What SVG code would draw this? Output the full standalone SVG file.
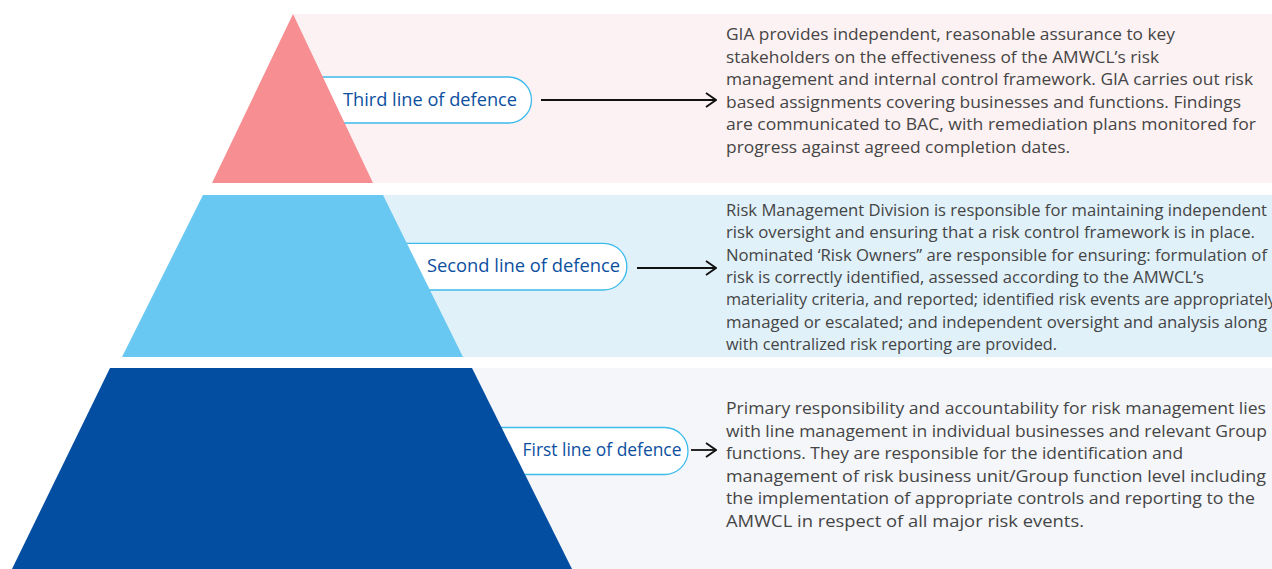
<svg xmlns="http://www.w3.org/2000/svg" width="1272" height="569" viewBox="0 0 1272 569">
  <defs>
    <marker id="chev" viewBox="0 0 12 16" markerWidth="12" markerHeight="16" refX="11" refY="8" orient="auto" markerUnits="userSpaceOnUse">
      <path d="M1,1 L11,8 L1,15" fill="none" stroke="#111" stroke-width="1.8"/>
    </marker>
    <style>
      .pill { fill: #ffffff; stroke: #3dbbea; stroke-width: 1.3; }
      .lbl { font-family: "Open Sans", Lato, sans-serif; font-size: 17.5px; fill: #0c4f9f; }
      .body { font-family: "Open Sans", Lato, sans-serif; font-size: 15.8px; fill: #454545; }
      .conn { stroke: #111; stroke-width: 1.8; fill: none; marker-end: url(#chev); }
    </style>
  </defs>

  <rect width="1272" height="569" fill="#ffffff"/>

  <!-- tier 3 -->
  <g id="tier3">
    <rect x="293" y="14" width="979" height="169" fill="#fdf2f3"/>
    <path class="pill" d="M320,77 H508.5 A23,23 0 0 1 508.5,123 H320 Z"/>
    <polygon points="293,14 373,183 212,183" fill="#f68e92"/>
    <text class="lbl" x="343" y="106" textLength="174" lengthAdjust="spacingAndGlyphs">Third line of defence</text>
    <g class="body">
      <text x="726" y="40" textLength="449" lengthAdjust="spacingAndGlyphs">GIA provides independent, reasonable assurance to key</text>
      <text x="726" y="62.5" textLength="433" lengthAdjust="spacingAndGlyphs">stakeholders on the effectiveness of the AMWCL’s risk</text>
      <text x="726" y="85" textLength="527" lengthAdjust="spacingAndGlyphs">management and internal control framework. GIA carries out risk</text>
      <text x="726" y="107.5" textLength="515" lengthAdjust="spacingAndGlyphs">based assignments covering businesses and functions. Findings</text>
      <text x="726" y="130" textLength="530" lengthAdjust="spacingAndGlyphs">are communicated to BAC, with remediation plans monitored for</text>
      <text x="726" y="152.5" textLength="344" lengthAdjust="spacingAndGlyphs">progress against agreed completion dates.</text>
    </g>
  </g>

  <!-- tier 2 -->
  <g id="tier2">
    <rect x="250" y="195" width="1022" height="162" fill="#e0f1fa"/>
    <path class="pill" d="M400,243.3 H603.5 A23.3,23.3 0 0 1 603.5,290 H400 Z"/>
    <polygon points="203,195 383,195 463,357 122,357" fill="#68c8f1"/>
    <text class="lbl" x="427" y="272" textLength="193" lengthAdjust="spacingAndGlyphs">Second line of defence</text>
    <g class="body">
      <text x="726" y="216" textLength="541" lengthAdjust="spacingAndGlyphs">Risk Management Division is responsible for maintaining independent</text>
      <text x="726" y="238.3" textLength="529" lengthAdjust="spacingAndGlyphs">risk oversight and ensuring that a risk control framework is in place.</text>
      <text x="726" y="260.6" textLength="541" lengthAdjust="spacingAndGlyphs">Nominated ‘Risk Owners” are responsible for ensuring: formulation of</text>
      <text x="726" y="283" textLength="478" lengthAdjust="spacingAndGlyphs">risk is correctly identified, assessed according to the AMWCL’s</text>
      <text x="726" y="305.3" textLength="550" lengthAdjust="spacingAndGlyphs">materiality criteria, and reported; identified risk events are appropriately</text>
      <text x="726" y="327.6" textLength="541" lengthAdjust="spacingAndGlyphs">managed or escalated; and independent oversight and analysis along</text>
      <text x="726" y="350" textLength="331" lengthAdjust="spacingAndGlyphs">with centralized risk reporting are provided.</text>
    </g>
  </g>

  <!-- tier 1 -->
  <g id="tier1">
    <rect x="400" y="368" width="872" height="201" fill="#f4f6fa"/>
    <path class="pill" d="M490,427.5 H664.5 A23.5,23.5 0 0 1 664.5,474.5 H490 Z"/>
    <polygon points="110,368 472,368 572,569 12,569" fill="#044ea2"/>
    <text class="lbl" x="522.5" y="456" textLength="159" lengthAdjust="spacingAndGlyphs">First line of defence</text>
    <g class="body">
      <text x="726" y="414" textLength="540" lengthAdjust="spacingAndGlyphs">Primary responsibility and accountability for risk management lies</text>
      <text x="726" y="436.6" textLength="541" lengthAdjust="spacingAndGlyphs">with line management in individual businesses and relevant Group</text>
      <text x="726" y="459.2" textLength="457" lengthAdjust="spacingAndGlyphs">functions. They are responsible for the identification and</text>
      <text x="726" y="481.8" textLength="540" lengthAdjust="spacingAndGlyphs">management of risk business unit/Group function level including</text>
      <text x="726" y="504.4" textLength="529" lengthAdjust="spacingAndGlyphs">the implementation of appropriate controls and reporting to the</text>
      <text x="726" y="527" textLength="358" lengthAdjust="spacingAndGlyphs">AMWCL in respect of all major risk events.</text>
    </g>
  </g>

  <!-- connectors -->
  <g id="connectors">
    <line class="conn" x1="541" y1="100" x2="716" y2="100"/>
    <line class="conn" x1="637" y1="268" x2="716" y2="268"/>
    <line class="conn" x1="691" y1="450" x2="716" y2="450"/>
  </g>
</svg>
